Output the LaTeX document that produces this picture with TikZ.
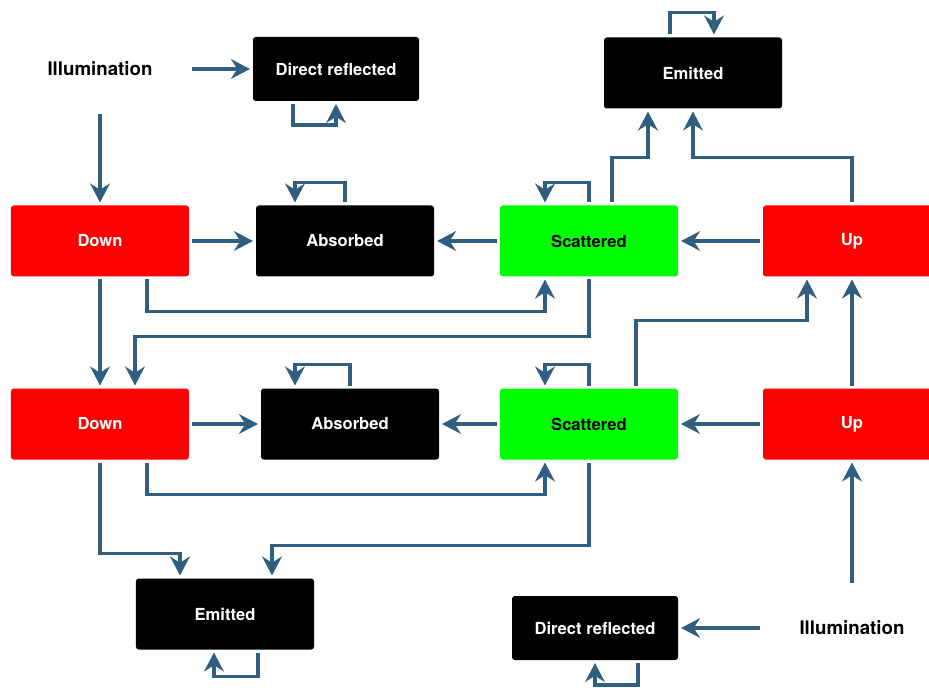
\documentclass[tikz,border=0pt]{standalone}
\usepackage{fontspec}
\setmainfont{TeX Gyre Heros}
\usetikzlibrary{positioning}
\usetikzlibrary{arrows.meta}
\definecolor{flowblue}{RGB}{48,94,128}

\begin{document}
\begin{tikzpicture}[box/.style={rectangle,rounded corners=2pt,minimum width=4.45cm,minimum height=1.775cm,outer sep=0.075cm,font=\fontsize{11.8}{14}\selectfont\bfseries},
  dark/.style={box,fill=black,text=white},
  hot/.style={box,fill=red,text=white},
  scat/.style={box,fill=green,text=black},
  refl/.style={dark,minimum width=4.15cm,minimum height=1.6cm},
  light/.style={rectangle,minimum width=4.45cm,minimum height=2.1cm,outer sep=0.075cm,font=\fontsize{13.3}{15}\selectfont\bfseries},
  flow/.style={->,>={Stealth[length=13.5pt,width=14pt,inset=4.5pt]},line width=2.4pt,flowblue}]

		  \useasboundingbox (-2.5,-11.175) rectangle (20.725,6.025);

		  % 1. Ebene
		  \node[hot] (Down1) {Down};
		  \node[dark] (Abs1)  [right=6.125cm of Down1.center,anchor=center] {Absorbed};
		  \node[scat] (Scat1) [right=12.225cm of Down1.center,anchor=center] {Scattered};
		  \node[hot] (Up1)    [right=18.8cm of Down1.center,anchor=center] {Up};
		  \node[light] (Illum1) [above=4.3cm of Down1.center,anchor=center] {Illumination};
		  \node[refl] (DR1)   [right=5.9cm of Illum1.center,anchor=center] {Direct reflected};
		  \node[dark] (Emit1) [above right=4.2cm and 2.6cm of Scat1.center,anchor=center] {Emitted};

		  % 2. Ebene
		  \node[hot] (Down2)  [below=4.575cm of Down1.center,anchor=center] {Down};
		  \node[dark] (Abs2)  [right=6.25cm of Down2.center,anchor=center] {Absorbed};
		  \node[scat] (Scat2) [right=12.225cm of Down2.center,anchor=center] {Scattered};
		  \node[hot] (Up2)    [right=18.8cm of Down2.center,anchor=center] {Up};
		  \node[dark] (Emit2) [below right=4.75cm and 3.125cm of Down2.center,anchor=center] {Emitted};
		  \node[light] (Illum2) [below=5.1cm of Up2.center,anchor=center] {Illumination};
		  \node[refl] (DR2)   [left=6.425cm of Illum2.center,anchor=center] {Direct reflected};

		  \path[flow]
			(Illum1) edge (DR1)
				  edge (Down1)
			(Down1) edge (Abs1)
				  edge (Down2)
			(Scat1) edge (Abs1)
			(Up1)   edge (Scat1)
			(Down2) edge (Abs2)
			(Scat2) edge (Abs2)
			(Up2)   edge (Scat2)
				  edge (Up1)
			(Illum2) edge (Up2)
				  edge (DR2);

		  % Schleifen
		  \draw[flow] ([xshift=-1.075cm]DR1.south) -- ++(0,-0.525) -| (DR1.south);
		  \draw[flow] ([xshift=-0.575cm]Emit1.north) -- ++(0,0.55) -| ([xshift=0.525cm]Emit1.north);
		  \draw[flow] (Abs1.north) -- ++(0,0.5) -| ([xshift=-1.25cm]Abs1.north);
		  \draw[flow] (Scat1.north) -- ++(0,0.5) -| ([xshift=-1.1cm]Scat1.north);
		  \draw[flow] (Abs2.north) -- ++(0,0.525) -| ([xshift=-1.375cm]Abs2.north);
		  \draw[flow] (Scat2.north) -- ++(0,0.525) -| ([xshift=-1.1cm]Scat2.north);
		  \draw[flow] ([xshift=0.825cm]Emit2.south) -- ++(0,-0.6) -| ([xshift=-0.275cm]Emit2.south);
		  \draw[flow] ([xshift=1.075cm]DR2.south) -- ++(0,-0.55) -| (DR2.south);

		  % Umwege
		  \draw[flow] ([xshift=0.575cm]Scat1.north) -- ++(0,1.125) -| ([xshift=-1.125cm]Emit1.south);
		  \draw[flow] (Up1.north) -- ++(0,1.125) -| (Emit1.south);
		  \draw[flow] ([xshift=1.175cm]Down1.south) -- ++(0,-0.8) -| ([xshift=-1.1cm]Scat1.south);
		  \draw[flow] (Scat1.south) -- ++(0,-1.425) -| ([xshift=0.875cm]Down2.north);
		  \draw[flow] ([xshift=1.175cm]Scat2.north) -- ++(0,1.625) -| ([xshift=-1.125cm]Up1.south);
		  \draw[flow] ([xshift=1.175cm]Down2.south) -- ++(0,-0.8) -| ([xshift=-1.1cm]Scat2.south);
		  \draw[flow] (Down2.south) -- ++(0,-2.275) -| ([xshift=-1.125cm]Emit2.north);
		  \draw[flow] (Scat2.south) -- ++(0,-2.075) -| ([xshift=1.175cm]Emit2.north);

		\end{tikzpicture}
\end{document}
